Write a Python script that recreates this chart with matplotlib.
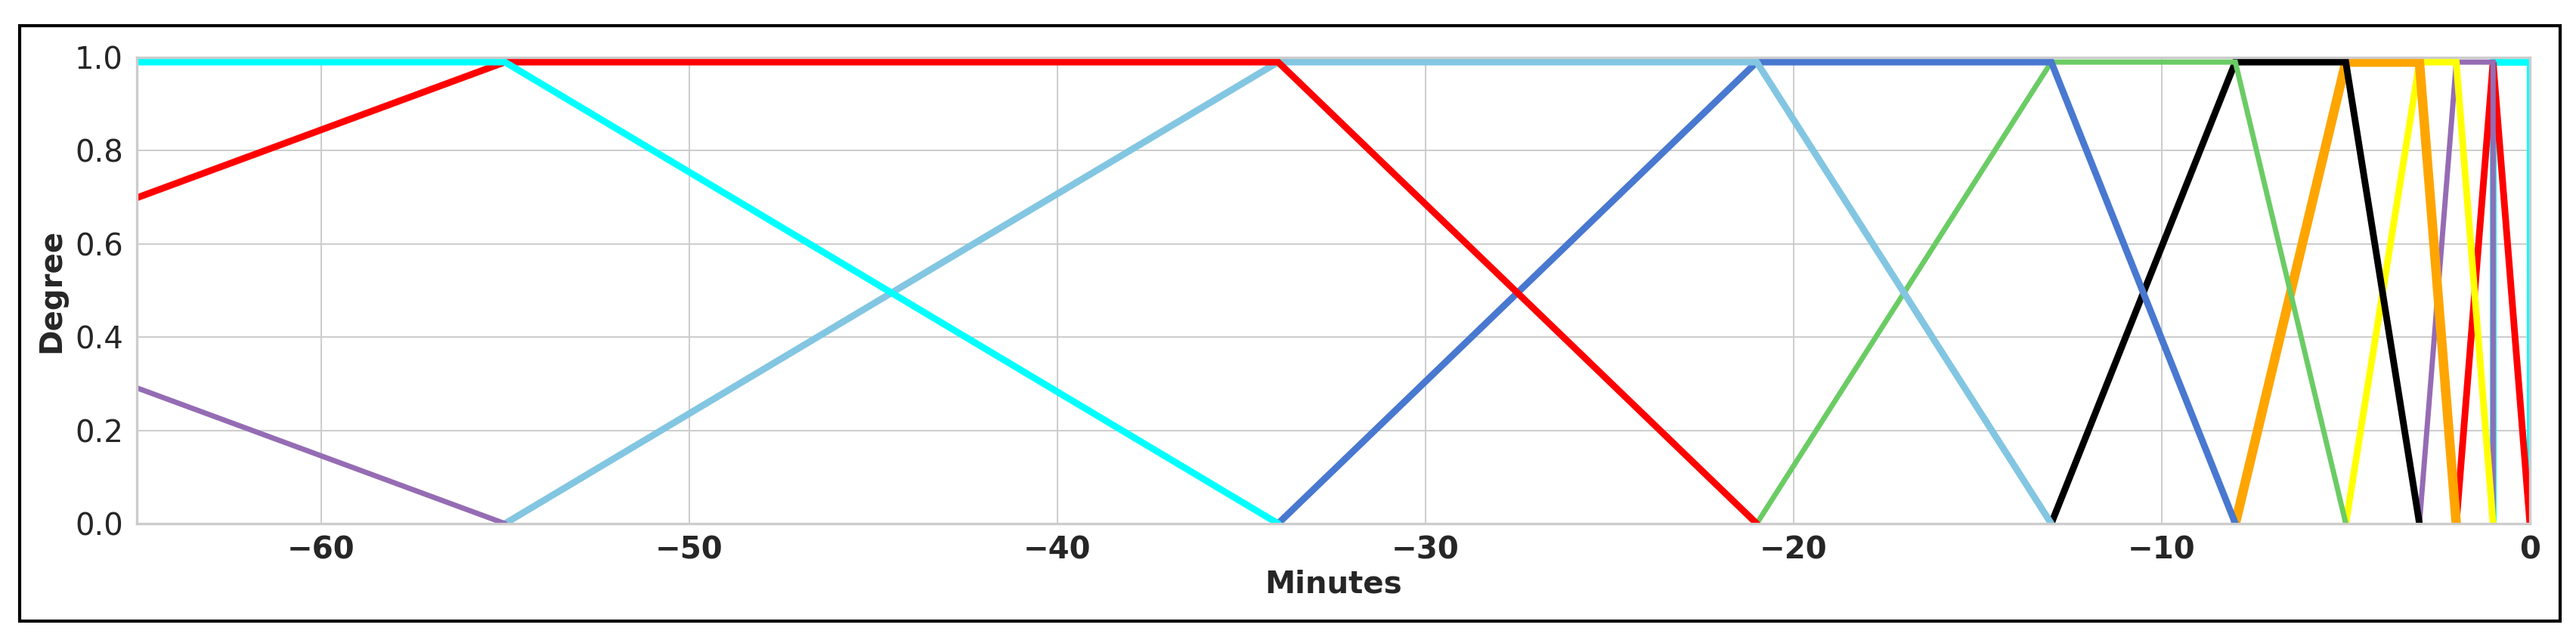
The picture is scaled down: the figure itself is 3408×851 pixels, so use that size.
import matplotlib
matplotlib.use('Agg')
import matplotlib.pyplot as plt
from matplotlib.patches import Rectangle
import seaborn as sns

# fuzzy sets over the minutes before the event (fibonacci break points)
set_x = [
    [-1, -1, 0, 0],
    [-2, -1, -1, 0],
    [-3, -2, -1, -1],
    [-5, -3, -2, -1],
    [-8, -5, -3, -2],
    [-13, -8, -5, -3],
    [-21, -13, -8, -5],
    [-34, -21, -13, -8],
    [-55, -34, -21, -13],
    [-89, -55, -34, -21],
    [-89, -55, -34],
    [-89, -55],
]
set_y = [
    [0, 0.99, 0.99, 0],
    [0, 0.99, 0.99, 0],
    [0, 0.99, 0.99, 0],
    [0, 0.99, 0.99, 0],
    [0, 0.99, 0.99, 0],
    [0, 0.99, 0.99, 0],
    [0, 0.99, 0.99, 0],
    [0, 0.99, 0.99, 0],
    [0, 0.99, 0.99, 0],
    [0, 0.99, 0.99, 0],
    [0.99, 0.99, 0],
    [0.99, 0],
]
set_colors = ['cyan', 'red', '#956cb4', 'yellow', 'orange', 'black',
              '#6acc64', '#4878d0', '#82c6e2', 'red', 'cyan', '#956cb4']
set_widths = [3.2, 3.2, 2.5, 3.2, 4.5, 3.2, 2.5, 3.2, 3.2, 3.2, 3.2, 2.5]

x_ticks = [-60, -50, -40, -30, -20, -10, 0]
y_ticks = [0.0, 0.2, 0.4, 0.6, 0.8, 1.0]

sns.set_style('whitegrid')
plt.rcParams['axes.edgecolor'] = '.8'
plt.rcParams['axes.linewidth'] = 1.2
plt.rcParams['grid.color'] = '.8'
plt.rcParams['grid.linewidth'] = 0.7

fig = plt.figure(figsize=(17.04, 4.255), dpi=200)
ax = fig.add_axes([0.0531, 0.1857, 0.929, 0.725])

for xs, ys, c, lw in zip(set_x, set_y, set_colors, set_widths):
    ax.plot(xs, ys, color=c, linewidth=lw, solid_joinstyle='miter')

ax.set_xlim(-65, 0)
ax.set_ylim(0, 1.0)
ax.set_xticks(x_ticks)
ax.set_yticks(y_ticks)
ax.set_yticklabels(['%.1f' % v for v in y_ticks], fontsize=14.5, color='#262626')
ax.set_xticklabels(['\u2212%d' % -v if v < 0 else '%d' % v for v in x_ticks],
                   fontsize=14.5, fontweight='bold', color='#262626')
ax.tick_params(axis='y', pad=6.5, length=0)
ax.tick_params(axis='x', pad=5.5, length=0)
ax.set_xlabel('Minutes', fontsize=14.5, fontweight='bold', color='#262626', labelpad=2)
ax.set_ylabel('Degree', fontsize=14.5, fontweight='bold', color='#262626', labelpad=4)

# black frame around the whole figure
fig.patches.append(Rectangle((0.0076, 0.0341), 0.99375 - 0.0076, 0.9595 - 0.0341,
                             transform=fig.transFigure, fill=False,
                             edgecolor='black', linewidth=1.5))

fig.savefig('out.png', dpi=200)
